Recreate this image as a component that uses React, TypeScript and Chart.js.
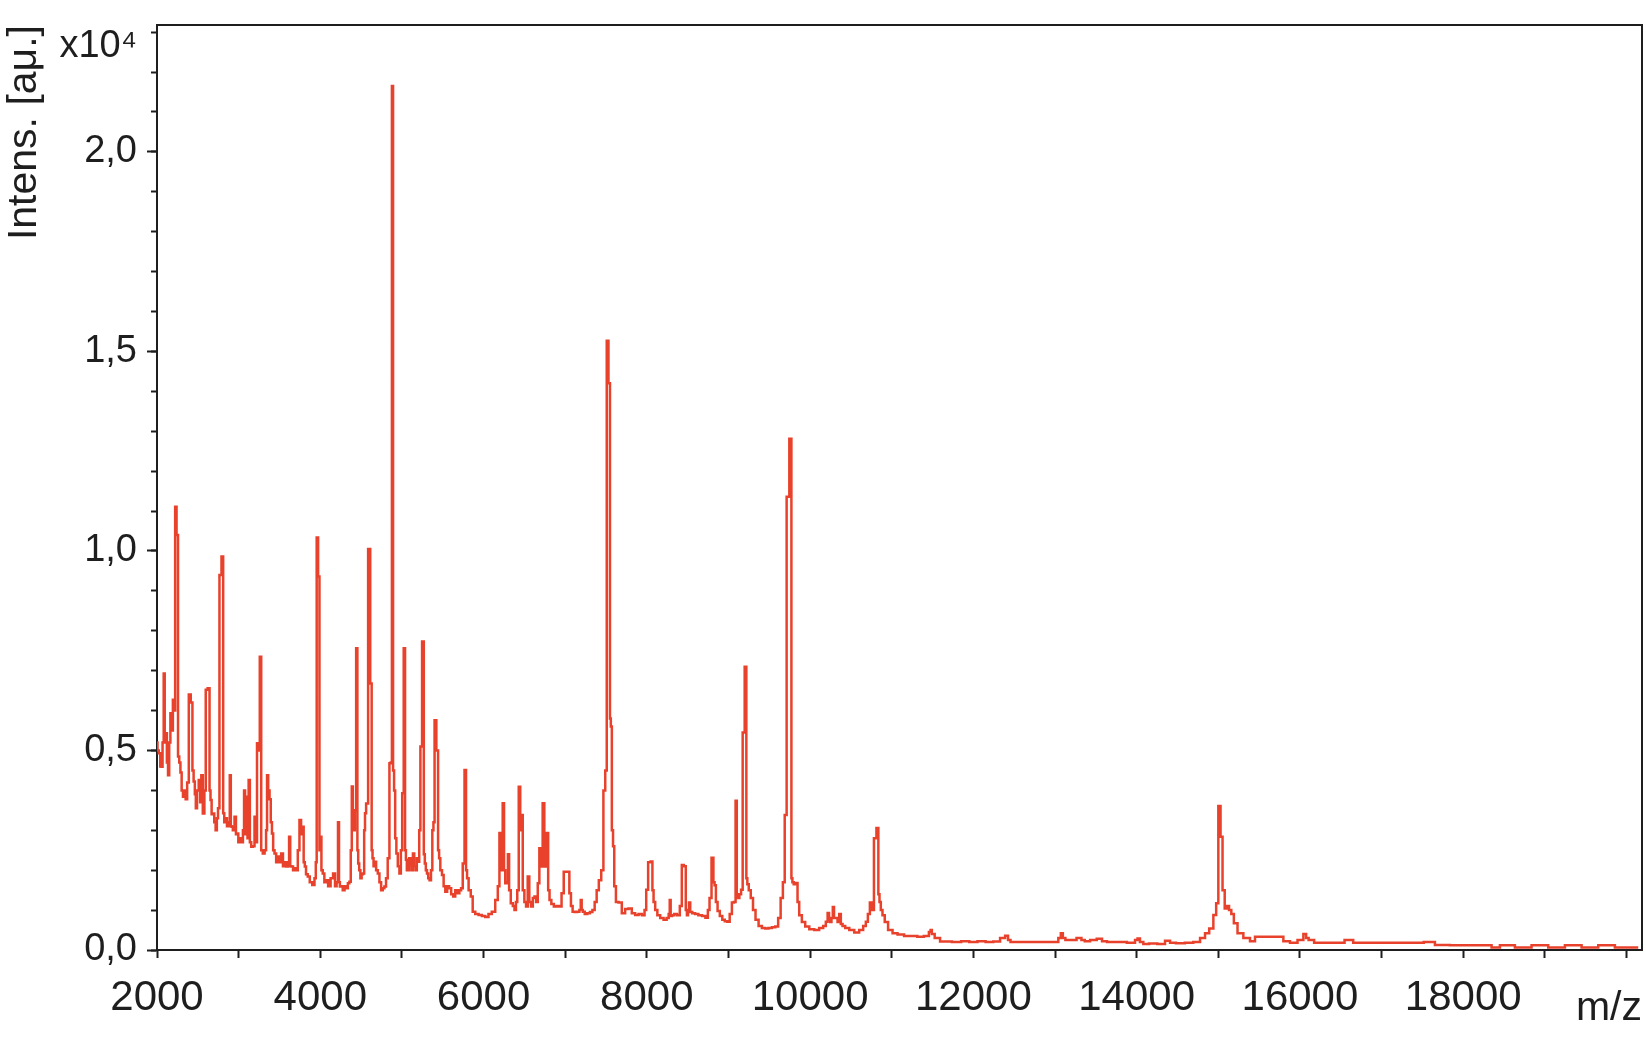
import React, { useEffect, useRef } from 'react';
import { Chart, registerables } from 'chart.js';

Chart.register(...registerables);

// ---------------- data (m/z, intensity in units of 10^4 a.u.) ----------------
const SPECTRUM_2000_4000: [number, number][] = [
  [2000, 0.52], [2012, 0.5], [2032, 0.493], [2048, 0.46], [2061, 0.459], [2075, 0.52],
  [2089, 0.693], [2100, 0.52], [2114, 0.543], [2128, 0.47], [2142, 0.438], [2157, 0.52],
  [2171, 0.593], [2186, 0.55], [2203, 0.627], [2216, 0.6], [2229, 1.111], [2250, 1.04],
  [2265, 0.485], [2280, 0.47], [2294, 0.445], [2310, 0.4], [2326, 0.384], [2342, 0.4],
  [2359, 0.378], [2380, 0.42], [2399, 0.64], [2428, 0.62], [2440, 0.45], [2457, 0.422],
  [2470, 0.39], [2481, 0.355], [2500, 0.4], [2522, 0.426], [2535, 0.37], [2551, 0.438],
  [2571, 0.342], [2590, 0.4], [2604, 0.652], [2637, 0.656], [2650, 0.4], [2661, 0.376],
  [2677, 0.34], [2693, 0.342], [2710, 0.32], [2726, 0.3], [2740, 0.33], [2755, 0.355],
  [2775, 0.94], [2805, 0.986], [2816, 0.343], [2832, 0.32], [2849, 0.33], [2865, 0.31],
  [2885, 0.32], [2898, 0.438], [2910, 0.31], [2918, 0.309], [2940, 0.3], [2959, 0.334],
  [2975, 0.29], [2987, 0.292], [3005, 0.27], [3020, 0.28], [3045, 0.27], [3060, 0.3],
  [3073, 0.4], [3085, 0.29], [3102, 0.384], [3115, 0.28], [3130, 0.426], [3145, 0.27],
  [3163, 0.259], [3185, 0.26], [3204, 0.334], [3218, 0.27], [3232, 0.518], [3250, 0.5],
  [3268, 0.735], [3285, 0.25], [3306, 0.242], [3330, 0.25], [3342, 0.3], [3354, 0.438],
  [3370, 0.4], [3387, 0.378], [3400, 0.32], [3416, 0.292], [3430, 0.25], [3449, 0.242],
  [3470, 0.22], [3489, 0.234], [3510, 0.22], [3531, 0.242], [3555, 0.21], [3575, 0.22],
  [3592, 0.209], [3612, 0.22], [3624, 0.284], [3640, 0.21], [3653, 0.209], [3680, 0.2],
  [3700, 0.205], [3714, 0.2], [3735, 0.25], [3755, 0.326], [3775, 0.29], [3788, 0.309],
  [3805, 0.22], [3816, 0.209], [3835, 0.19], [3857, 0.184], [3885, 0.17], [3918, 0.163],
  [3940, 0.18], [3950, 0.22], [3962, 1.034], [3985, 0.936], [3995, 0.25], [4008, 0.284],
  [4020, 0.2],
];

const SPECTRUM_4000_6000: [number, number][] = [
  [4040, 0.192], [4060, 0.17], [4082, 0.175], [4110, 0.16], [4143, 0.18], [4171, 0.192],
  [4190, 0.16], [4210, 0.17], [4224, 0.32], [4235, 0.17], [4245, 0.159], [4265, 0.16],
  [4285, 0.15], [4310, 0.16], [4330, 0.155], [4346, 0.167], [4367, 0.171], [4380, 0.25],
  [4392, 0.41], [4405, 0.33], [4416, 0.3], [4430, 0.35], [4449, 0.756], [4460, 0.25],
  [4469, 0.217], [4485, 0.2], [4498, 0.18], [4515, 0.19], [4530, 0.192], [4545, 0.3],
  [4551, 0.343], [4572, 0.367], [4600, 1.005], [4624, 0.668], [4635, 0.25], [4645, 0.23],
  [4660, 0.21], [4673, 0.221], [4695, 0.2], [4714, 0.192], [4735, 0.17], [4755, 0.15],
  [4775, 0.155], [4796, 0.159], [4815, 0.18], [4837, 0.23], [4857, 0.468], [4870, 0.47],
  [4885, 2.165], [4898, 0.45], [4910, 0.4], [4925, 0.28], [4939, 0.242], [4960, 0.21],
  [4979, 0.192], [4995, 0.25], [5012, 0.393], [5032, 0.756], [5045, 0.25], [5053, 0.226],
  [5068, 0.2], [5081, 0.2], [5098, 0.23], [5114, 0.213], [5128, 0.2], [5142, 0.242],
  [5160, 0.21], [5175, 0.2], [5190, 0.23], [5204, 0.221], [5220, 0.3], [5233, 0.51],
  [5261, 0.773], [5275, 0.24], [5286, 0.217], [5300, 0.2], [5314, 0.192], [5330, 0.18],
  [5347, 0.175], [5365, 0.2], [5380, 0.3], [5392, 0.32], [5408, 0.576], [5436, 0.5],
  [5450, 0.25], [5461, 0.23], [5480, 0.2], [5502, 0.188], [5520, 0.16], [5543, 0.146],
  [5565, 0.16], [5592, 0.155], [5615, 0.14], [5641, 0.134], [5665, 0.15], [5693, 0.142],
  [5715, 0.15], [5735, 0.155], [5755, 0.217], [5779, 0.451], [5792, 0.2], [5804, 0.18],
  [5830, 0.15], [5857, 0.134], [5877, 0.096], [5920, 0.09], [5959, 0.088], [6000, 0.085],
  [6041, 0.083], [6080, 0.09],
];

const SPECTRUM_6000_10000: [number, number][] = [
  [6122, 0.096], [6164, 0.125], [6185, 0.16], [6204, 0.293], [6225, 0.2], [6244, 0.368],
  [6258, 0.2], [6274, 0.167], [6290, 0.17], [6306, 0.24], [6320, 0.15], [6347, 0.117],
  [6370, 0.11], [6388, 0.1], [6405, 0.12], [6421, 0.15], [6441, 0.409], [6458, 0.3],
  [6470, 0.338], [6490, 0.15], [6510, 0.12], [6531, 0.109], [6551, 0.184], [6570, 0.12],
  [6592, 0.109], [6615, 0.13], [6633, 0.134], [6655, 0.12], [6673, 0.167], [6694, 0.255],
  [6714, 0.209], [6734, 0.368], [6755, 0.209], [6783, 0.293], [6800, 0.15], [6816, 0.125],
  [6845, 0.115], [6877, 0.109], [6910, 0.11], [6939, 0.109], [6972, 0.142], [6992, 0.196],
  [7041, 0.196], [7061, 0.142], [7080, 0.11], [7102, 0.096], [7130, 0.095], [7163, 0.096],
  [7185, 0.1], [7196, 0.125], [7208, 0.1], [7224, 0.096], [7255, 0.09], [7286, 0.092],
  [7320, 0.095], [7347, 0.1], [7375, 0.12], [7396, 0.15], [7428, 0.175], [7455, 0.2],
  [7481, 0.4], [7500, 0.45], [7518, 1.527], [7542, 1.42], [7555, 0.58], [7563, 0.56],
  [7580, 0.3], [7592, 0.26], [7610, 0.16], [7633, 0.12], [7673, 0.119], [7714, 0.092],
  [7755, 0.103], [7796, 0.104], [7836, 0.092], [7878, 0.088], [7920, 0.09], [7959, 0.087],
  [7985, 0.1], [8000, 0.151], [8032, 0.22], [8062, 0.222], [8075, 0.15], [8090, 0.12],
  [8115, 0.1], [8143, 0.087], [8185, 0.08], [8225, 0.076], [8260, 0.08], [8275, 0.09],
  [8286, 0.125], [8298, 0.085], [8319, 0.087], [8350, 0.09], [8388, 0.087], [8420, 0.11],
  [8437, 0.213], [8470, 0.21], [8484, 0.1], [8498, 0.087], [8510, 0.1], [8523, 0.119],
  [8540, 0.095], [8572, 0.092], [8610, 0.09], [8653, 0.087], [8700, 0.085], [8735, 0.081],
  [8760, 0.1], [8776, 0.13], [8809, 0.231], [8822, 0.17], [8837, 0.162], [8855, 0.12],
  [8878, 0.098], [8910, 0.085], [8939, 0.076], [8970, 0.072], [9000, 0.071], [9030, 0.09],
  [9054, 0.119], [9080, 0.12], [9094, 0.374], [9110, 0.14], [9122, 0.13], [9145, 0.14],
  [9164, 0.151], [9184, 0.545], [9213, 0.71], [9225, 0.18], [9237, 0.165], [9260, 0.15],
  [9286, 0.13], [9315, 0.1], [9348, 0.076], [9390, 0.06], [9429, 0.055], [9470, 0.054],
  [9510, 0.055], [9555, 0.057], [9592, 0.059], [9625, 0.08], [9653, 0.13], [9680, 0.17],
  [9698, 0.338], [9727, 1.136], [9764, 1.281], [9778, 0.18], [9788, 0.17], [9810, 0.165],
  [9837, 0.168], [9855, 0.12], [9878, 0.087], [9920, 0.07], [9960, 0.059],
];

const SPECTRUM_10000_20200: [number, number][] = [
  [10020, 0.052], [10082, 0.05], [10140, 0.055], [10180, 0.06], [10205, 0.071], [10224, 0.093],
  [10240, 0.075], [10253, 0.07], [10270, 0.08], [10286, 0.108], [10300, 0.08], [10327, 0.08],
  [10345, 0.07], [10368, 0.09], [10385, 0.065], [10410, 0.06], [10450, 0.055], [10510, 0.05],
  [10572, 0.044], [10630, 0.05], [10670, 0.06], [10695, 0.071], [10720, 0.09], [10744, 0.119],
  [10768, 0.1], [10796, 0.28], [10829, 0.306], [10843, 0.14], [10857, 0.12], [10875, 0.1],
  [10898, 0.087], [10930, 0.07], [10980, 0.05], [11040, 0.042], [11102, 0.039], [11200, 0.035],
  [11280, 0.035], [11347, 0.033], [11440, 0.035], [11470, 0.045], [11482, 0.05], [11500, 0.04],
  [11552, 0.03], [11632, 0.021], [11674, 0.021], [11800, 0.02], [11900, 0.022], [12000, 0.02],
  [12100, 0.022], [12200, 0.02], [12286, 0.021], [12368, 0.03], [12409, 0.036], [12440, 0.025],
  [12470, 0.02], [12700, 0.02], [13021, 0.02], [13060, 0.03], [13082, 0.042], [13110, 0.03],
  [13144, 0.025], [13220, 0.025], [13307, 0.03], [13340, 0.025], [13389, 0.022], [13470, 0.025],
  [13552, 0.028], [13600, 0.022], [13674, 0.02], [13800, 0.02], [13960, 0.018], [14000, 0.025],
  [14021, 0.029], [14060, 0.02], [14103, 0.015], [14200, 0.016], [14307, 0.015], [14388, 0.023],
  [14430, 0.018], [14531, 0.017], [14650, 0.018], [14736, 0.02], [14817, 0.03], [14858, 0.042],
  [14919, 0.054], [14960, 0.088], [14988, 0.117], [15013, 0.361], [15042, 0.284], [15062, 0.15],
  [15095, 0.104], [15120, 0.11], [15143, 0.1], [15176, 0.09], [15205, 0.067], [15266, 0.042],
  [15348, 0.03], [15429, 0.022], [15470, 0.033], [15600, 0.033], [15756, 0.033], [15838, 0.022],
  [15919, 0.018], [16022, 0.025], [16062, 0.04], [16090, 0.03], [16123, 0.025], [16225, 0.018],
  [16520, 0.018], [16573, 0.025], [16630, 0.025], [16675, 0.018], [17100, 0.018], [17400, 0.018],
  [17633, 0.02], [17674, 0.0125], [18000, 0.012], [18327, 0.012], [18368, 0.006], [18531, 0.012],
  [18735, 0.006], [18939, 0.012], [19144, 0.006], [19348, 0.012], [19552, 0.006], [19756, 0.012],
  [19960, 0.006], [20144, 0.006],
];

const X_TICK_VALUES = [2000, 3000, 4000, 5000, 6000, 7000, 8000, 9000, 10000, 11000, 12000,
  13000, 14000, 15000, 16000, 17000, 18000, 19000, 20000];
const X_LABEL_VALUES = [2000, 4000, 6000, 8000, 10000, 12000, 14000, 16000, 18000];
const Y_MAJOR_VALUES = [0, 0.5, 1.0, 1.5, 2.0];
const Y_MINOR_VALUES = [0, 0.1, 0.2, 0.3, 0.4, 0.5, 0.6, 0.7, 0.8, 0.9, 1.0, 1.1, 1.2, 1.3, 1.4,
  1.5, 1.6, 1.7, 1.8, 1.9, 2.0, 2.1, 2.2, 2.3];
const Y_EXPONENT_TEXT = 'x10\u2074';
const Y_TITLE = 'Intens. [a\u03bc.]';
const X_TITLE = 'm/z';

const X_MIN = 2000;
const X_MAX = 20190;
const Y_MIN = 0;
const Y_MAX = 2.318;

// ---------------- styling / layout ----------------
const FONT_FAMILY = "'Liberation Sans', Arial, Helvetica, sans-serif";
const AXIS_COLOR = '#1e1e1e';
const TEXT_COLOR = '#1e1e1e';
const LINE_COLOR = 'rgb(232, 66, 44)';
const EXPONENT_LABEL_POS = 2.265;

const fmt = (v: number) => v.toFixed(1).replace('.', ',');

export default function App() {
  const canvasRef = useRef<HTMLCanvasElement>(null);

  useEffect(() => {
    const canvas = canvasRef.current;
    if (!canvas) return;
    Chart.defaults.font.family = FONT_FAMILY;
    Chart.defaults.color = TEXT_COLOR;

    const points = [
      ...SPECTRUM_2000_4000,
      ...SPECTRUM_4000_6000,
      ...SPECTRUM_6000_10000,
      ...SPECTRUM_10000_20200,
    ].map(([x, y]) => ({ x, y }));

    const chart = new Chart(canvas, {
      type: 'line',
      data: {
        datasets: [
          {
            data: points,
            borderColor: LINE_COLOR,
            borderWidth: 2.5,
            pointRadius: 0,
            tension: 0,
            stepped: 'middle',
            fill: false,
            borderJoinStyle: 'miter',
          },
        ],
      },
      options: {
        responsive: false,
        animation: false,
        devicePixelRatio: 1,
        events: [],
        layout: { padding: { top: 25, right: 4, bottom: 0, left: 0 } },
        plugins: { legend: { display: false }, tooltip: { enabled: false } },
        scales: {
          x: {
            type: 'linear',
            position: 'bottom',
            min: X_MIN,
            max: X_MAX,
            afterBuildTicks: (s: any) => {
              s.ticks = X_TICK_VALUES.map((v) => ({ value: v }));
            },
            afterFit: (s: any) => {
              s.height = 92;
              s.paddingLeft = 0;
              s.paddingRight = 0;
            },
            grid: {
              display: true,
              drawOnChartArea: false,
              drawTicks: true,
              tickLength: 8,
              tickWidth: 2,
              tickColor: AXIS_COLOR,
              color: AXIS_COLOR,
            },
            border: { display: true, color: AXIS_COLOR, width: 2 },
            ticks: {
              autoSkip: false,
              maxRotation: 0,
              minRotation: 0,
              padding: 15,
              color: TEXT_COLOR,
              font: { size: 42, family: FONT_FAMILY },
              callback: (v: any) => (X_LABEL_VALUES.includes(Number(v)) ? String(v) : ''),
            },
            title: {
              display: true,
              text: X_TITLE,
              align: 'end',
              color: TEXT_COLOR,
              font: { size: 41, family: FONT_FAMILY },
              padding: { top: 0, bottom: 9 },
            },
          },
          xTop: {
            type: 'linear',
            position: 'top',
            min: X_MIN,
            max: X_MAX,
            grid: { display: false },
            border: { display: true, color: AXIS_COLOR, width: 2 },
            ticks: { display: false },
            afterFit: (s: any) => {
              s.height = 0;
              s.paddingLeft = 0;
              s.paddingRight = 0;
            },
          },
          y: {
            type: 'linear',
            position: 'left',
            weight: 1,
            min: Y_MIN,
            max: Y_MAX,
            afterBuildTicks: (s: any) => {
              s.ticks = [...Y_MAJOR_VALUES, EXPONENT_LABEL_POS].map((v) => ({ value: v }));
            },
            afterFit: (s: any) => {
              s.width = 157;
              s.paddingTop = 0;
              s.paddingBottom = 0;
            },
            grid: {
              display: true,
              drawOnChartArea: false,
              drawTicks: true,
              tickLength: 10,
              tickWidth: 2,
              color: AXIS_COLOR,
              tickColor: (ctx: any) =>
                ctx.tick && ctx.tick.value === EXPONENT_LABEL_POS ? 'rgba(0,0,0,0)' : AXIS_COLOR,
            },
            border: { display: true, color: AXIS_COLOR, width: 2 },
            ticks: {
              padding: 10,
              color: TEXT_COLOR,
              font: (ctx: any) => ({
                size: ctx.tick && ctx.tick.value === EXPONENT_LABEL_POS ? 38 : 38,
                family: FONT_FAMILY,
              }),
              callback: (v: any) =>
                Number(v) === EXPONENT_LABEL_POS ? Y_EXPONENT_TEXT : fmt(Number(v)),
            },
            title: {
              display: true,
              text: Y_TITLE,
              align: 'end',
              color: TEXT_COLOR,
              font: { size: 41, family: FONT_FAMILY },
              padding: { top: 0, bottom: 0 },
            },
          },
          yMinor: {
            type: 'linear',
            position: 'left',
            weight: 0,
            min: Y_MIN,
            max: Y_MAX,
            afterBuildTicks: (s: any) => {
              s.ticks = Y_MINOR_VALUES.map((v) => ({ value: v }));
            },
            afterFit: (s: any) => {
              s.width = 0;
              s.paddingTop = 0;
              s.paddingBottom = 0;
            },
            grid: {
              display: true,
              drawOnChartArea: false,
              drawTicks: true,
              tickLength: 6,
              tickWidth: 2,
              color: AXIS_COLOR,
              tickColor: AXIS_COLOR,
            },
            border: { display: false },
            ticks: { display: false },
          },
          yRight: {
            type: 'linear',
            position: 'right',
            min: Y_MIN,
            max: Y_MAX,
            grid: { display: false },
            border: { display: true, color: AXIS_COLOR, width: 2 },
            ticks: { display: false },
            afterFit: (s: any) => {
              s.width = 0;
              s.paddingTop = 0;
              s.paddingBottom = 0;
            },
          },
        },
      } as any,
    });

    return () => chart.destroy();
  }, []);

  return (
    <div
      style={{
        position: 'absolute',
        left: 0,
        top: 0,
        width: 1646,
        height: 1042,
        background: '#ffffff',
      }}
    >
      <canvas
        ref={canvasRef}
        width={1646}
        height={1042}
        style={{ display: 'block', width: 1646, height: 1042 }}
      />
    </div>
  );
}
